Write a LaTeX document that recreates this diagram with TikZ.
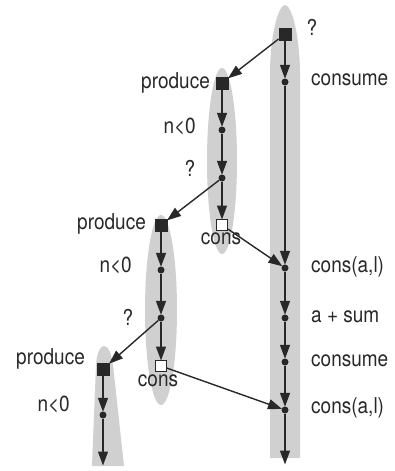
\documentclass[tikz,border=0pt]{standalone}
\usepackage{fontspec}
\setmainfont{TeX Gyre Heros}
\usetikzlibrary{arrows.meta}
\definecolor{lanegray}{RGB}{208,208,208}
\definecolor{ink}{RGB}{40,40,40}
\newcommand{\stretchtxt}[1]{\scalebox{1}[1.15]{#1}}
\tikzset{
  lane/.style={fill=lanegray, draw=none},
  fsq/.style={draw=ink, fill=ink, minimum size=12pt, inner sep=0pt, line width=0.8pt},
  osq/.style={draw=ink, fill=white, minimum size=11pt, inner sep=0pt, line width=1pt},
  pt/.style={circle, fill=ink, minimum size=7pt, inner sep=0pt},
  flow/.style={draw=ink, line width=1.4pt, -{Triangle[width=10pt,length=14pt]}, shorten >=-0.5pt},
  txt/.style={text=ink, inner sep=0pt, font=\fontsize{19}{21}\selectfont}
}
\begin{document}
\begin{tikzpicture}[x=1pt,y=-1pt]
\useasboundingbox (0,0) rectangle (394,471);
% lanes
\fill[lane] (270,458) -- (270,70) .. controls (271,30) and (279,5) .. (285,5) .. controls (291,5) and (299,30) .. (300,70) -- (300,458) -- cycle;
\fill[lane] (222,161) ellipse [x radius=15, y radius=93];
\fill[lane] (161,310) ellipse [x radius=16, y radius=95];
\fill[lane] (92,466) -- (96,365) .. controls (97,351) and (101,346) .. (104,346) .. controls (108,346) and (111,352) .. (113,365) -- (124,466) -- cycle;
% column 1
\node[fsq] (q1) at (285,34) {};
\node[pt] (c1a) at (285,82) {};
\node[pt] (c1b) at (285,268) {};
\node[pt] (c1c) at (285,318) {};
\node[pt] (c1d) at (285,362) {};
\node[pt] (c1e) at (285,410) {};
\coordinate (e1) at (285,464);
% column 2
\node[fsq] (s2) at (222,83) {};
\node[pt] (d2a) at (222,130) {};
\node[pt] (d2b) at (222,178) {};
\node[osq] (o2) at (222,225) {};
% column 3
\node[fsq] (s3) at (161,225) {};
\node[pt] (d3a) at (161,270) {};
\node[pt] (d3b) at (161,318) {};
\node[osq] (o3) at (161,366) {};
% column 4
\node[fsq] (s4) at (103,369) {};
\node[pt] (d4a) at (103,415) {};
\coordinate (e4) at (103,465);
% vertical flows
\draw[flow] (q1) -- (c1a);
\draw[flow] (c1a) -- (c1b);
\draw[flow] (c1b) -- (c1c);
\draw[flow] (c1c) -- (c1d);
\draw[flow] (c1d) -- (c1e);
\draw[flow] (c1e) -- (e1);
\draw[flow] (s2) -- (d2a);
\draw[flow] (d2a) -- (d2b);
\draw[flow] (d2b) -- (o2);
\draw[flow] (s3) -- (d3a);
\draw[flow] (d3a) -- (d3b);
\draw[flow] (d3b) -- (o3);
\draw[flow] (s4) -- (d4a);
\draw[flow] (d4a) -- (e4);
% diagonal flows
\draw[flow] (q1) -- (s2);
\draw[flow] (d2b) -- (s3);
\draw[flow] (d3b) -- (s4);
\draw[flow] (o2) -- (c1b);
\draw[flow] (o3) -- (c1e);
% labels column 1
\node[txt] (l1) at (312,27) {\stretchtxt{?}};
\node[txt, anchor=west] (l2) at (311,80) {\stretchtxt{consume}};
\node[txt, anchor=west] (l3) at (311,267) {\stretchtxt{cons(a,l)}};
\node[txt, anchor=west] (l4) at (311,317) {\stretchtxt{a + sum}};
\node[txt, anchor=west] (l5) at (311,361) {\stretchtxt{consume}};
\node[txt, anchor=west] (l6) at (311,408) {\stretchtxt{cons(a,l)}};
% labels column 2
\node[txt, anchor=east] (l7) at (210,83) {\stretchtxt{produce}};
\node[txt, anchor=east] (l8) at (196,127) {\stretchtxt{n<0}};
\node[txt] (l9) at (190,168) {\stretchtxt{?}};
\node[txt] (l10) at (221,239) {\stretchtxt{cons}};
% labels column 3
\node[txt, anchor=east] (l11) at (146,224) {\stretchtxt{produce}};
\node[txt, anchor=east] (l12) at (132,266) {\stretchtxt{n<0}};
\node[txt] (l13) at (128,317) {\stretchtxt{?}};
\node[txt] (l14) at (158,381) {\stretchtxt{cons}};
% labels column 4
\node[txt, anchor=east] (l15) at (85,359) {\stretchtxt{produce}};
\node[txt, anchor=east] (l16) at (70,405) {\stretchtxt{n<0}};
\end{tikzpicture}
\end{document}
